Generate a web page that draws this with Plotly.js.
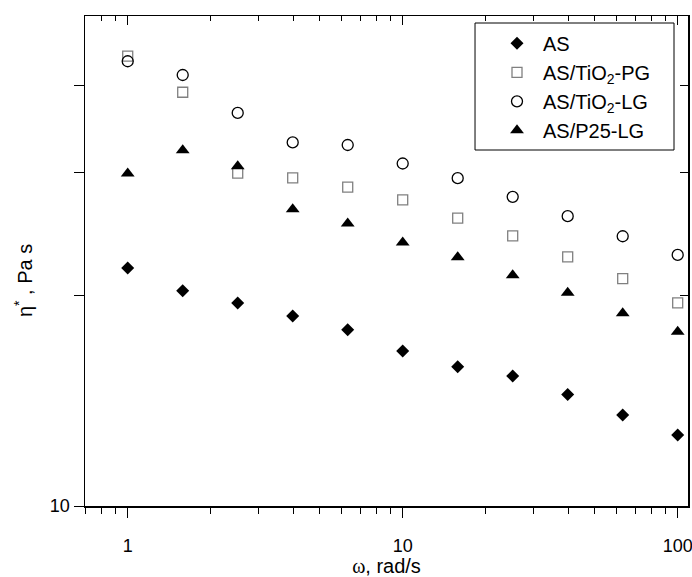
<!DOCTYPE html>
<html>
<head>
<meta charset="utf-8">
<script src="https://cdn.plot.ly/plotly-3.0.1.min.js"></script>
<style>html,body{margin:0;padding:0;background:#fff;}#chart{width:692px;height:577px;}</style>
</head>
<body>
<div id="chart"></div>
<script>
// angular frequency, rad/s
const omega = [1, 1.585, 2.512, 3.981, 6.31, 10, 15.85, 25.12, 39.81, 63.1, 100];
// complex viscosity, Pa s
const etaAS      = [21.93, 20.33, 19.53, 18.71, 17.89, 16.67, 15.83, 15.35, 14.45, 13.50, 12.64];
const etaTiO2PG  = [44.1, 39.14, 29.97, 29.51, 28.62, 27.45, 25.84, 24.37, 22.74, 21.16, 19.54];
const etaTiO2LG  = [43.35, 41.43, 36.56, 33.17, 32.89, 30.94, 29.48, 27.72, 26.01, 24.34, 22.89];
const etaP25LG   = [29.94, 32.33, 30.66, 26.60, 25.39, 23.85, 22.72, 21.41, 20.20, 18.88, 17.77];
const seriesNames = ['AS', 'AS/TiO<sub>2</sub>-PG', 'AS/TiO<sub>2</sub>-LG', 'AS/P25-LG'];
const yTickVals = [10, 20, 30, 40];
const yTickText = ['10', '', '', ''];
const xTickVals = [1, 10, 100];
const xTickText = ['1', '10', '100'];

const FONT = 'Liberation Sans, Arial, sans-serif';
const xr = [-0.1553, 2.0375];
const yr = [1, 1.7018];

const traces = [
  {x: omega, y: etaAS, name: seriesNames[0], legendgroup: 'a', mode: 'markers', type: 'scatter',
   marker: {symbol: 'diamond', size: 10, color: '#000'}},
  {x: omega, y: etaTiO2PG, name: seriesNames[1], legendgroup: 'b', mode: 'markers', type: 'scatter',
   marker: {symbol: 'square-open', size: 10, color: '#808080', line: {width: 1.3, color: '#808080'}}},
  {x: omega, y: etaTiO2LG, name: seriesNames[2], legendgroup: 'c', mode: 'markers', type: 'scatter',
   marker: {symbol: 'circle-open', size: 11, color: '#000', line: {width: 1.3, color: '#000'}}},
  {x: omega, y: etaP25LG, name: seriesNames[3], legendgroup: 'd', mode: 'markers', type: 'scatter',
   marker: {symbol: 'triangle-up', size: 12, color: '#000'}},
  {x: [omega[0]], y: [etaAS[0]], xaxis: 'x2', yaxis: 'y2', mode: 'markers', type: 'scatter',
   marker: {opacity: 0}, showlegend: false, hoverinfo: 'skip'}
];

const layout = {
  width: 692, height: 577,
  margin: {l: 85, r: 4, t: 16, b: 71},
  paper_bgcolor: '#fff', plot_bgcolor: '#fff',
  font: {family: FONT, size: 18, color: '#000'},
  showlegend: true,
  legend: {x: 0.6733, y: 0.984, xanchor: 'left', yanchor: 'top',
           borderwidth: 0, bgcolor: 'rgba(0,0,0,0)',
           font: {family: FONT, size: 20, color: '#000'}, tracegroupgap: 0,
           itemwidth: 42},
  shapes: [{type: 'rect', xref: 'paper', yref: 'paper',
            x0: 0.6468, x1: 0.9768, y0: 0.7265, y1: 0.9857,
            line: {color: '#000', width: 1}, fillcolor: 'rgba(0,0,0,0)'}],
  annotations: [{xref: 'paper', yref: 'paper', x: -0.1028, y: 0.459,
                 text: 'η<sup>*</sup> , Pa s', textangle: -90, showarrow: false,
                 xanchor: 'center', yanchor: 'middle',
                 font: {family: FONT, size: 20, color: '#000'}}],
  xaxis: {type: 'log', range: xr, showgrid: false, zeroline: false,
          showline: true, linecolor: '#000', linewidth: 1.5, mirror: true,
          ticks: 'outside', ticklen: 10, tickwidth: 1, tickcolor: '#000',
          tickvals: xTickVals, ticktext: xTickText, ticklabelstandoff: 13,
          ticklabeloverflow: 'allow',
          tickfont: {family: FONT, size: 18},
          minor: {ticks: 'outside', ticklen: 6, tickwidth: 1, tickcolor: '#000', dtick: 'D1', showgrid: false},
          title: {text: '<span style="font-family:Liberation Serif, serif">ω</span>, rad/s', font: {family: FONT, size: 20}, standoff: 9}},
  yaxis: {type: 'log', range: yr, showgrid: false, zeroline: false,
          showline: true, linecolor: '#000', linewidth: 1.5, mirror: true,
          ticks: 'outside', ticklen: 10, tickwidth: 1, tickcolor: '#000',
          tickvals: yTickVals, ticktext: yTickText,
          tickfont: {family: FONT, size: 18}},
  xaxis2: {type: 'log', range: xr, overlaying: 'x', side: 'top', anchor: 'y2',
           showgrid: false, zeroline: false, showline: false,
           ticks: 'inside', ticklen: 9, tickwidth: 1, tickcolor: '#000',
           tickvals: xTickVals, showticklabels: false,
           minor: {ticks: 'inside', ticklen: 5, tickwidth: 1, tickcolor: '#000', dtick: 'D1', showgrid: false}},
  yaxis2: {type: 'log', range: yr, overlaying: 'y', side: 'right', anchor: 'x2',
           showgrid: false, zeroline: false, showline: false,
           ticks: 'inside', ticklen: 8, tickwidth: 1, tickcolor: '#000',
           tickvals: yTickVals, showticklabels: false}
};

Plotly.newPlot('chart', traces, layout, {displayModeBar: false, staticPlot: true});
</script>
</body>
</html>
